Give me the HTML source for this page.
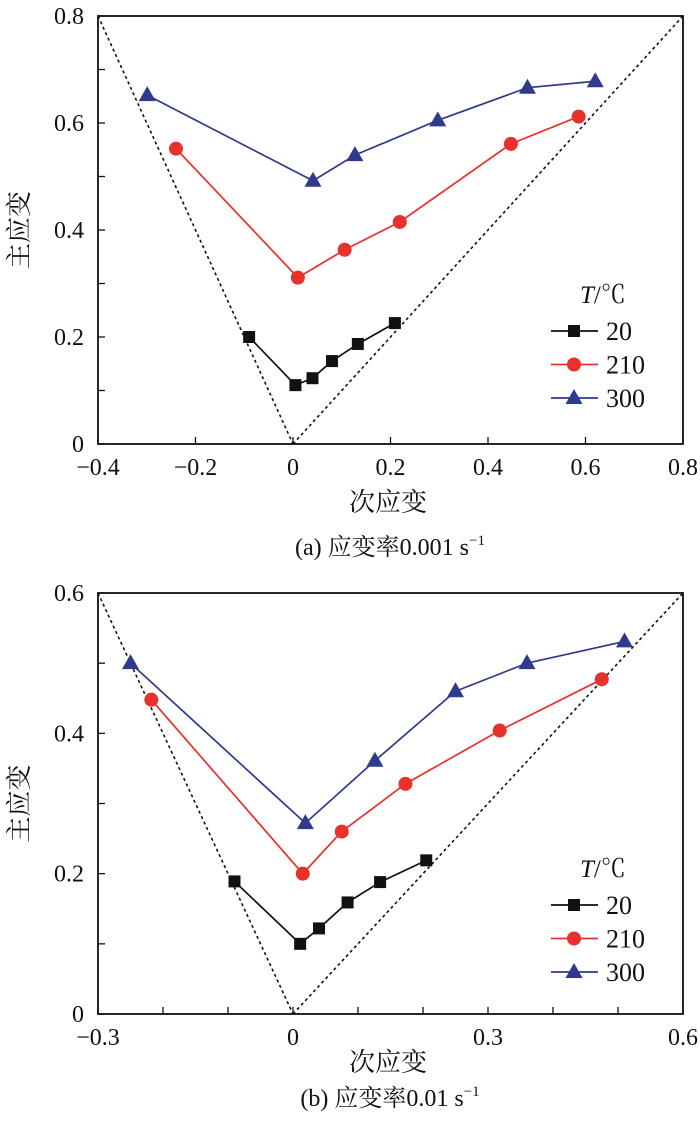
<!DOCTYPE html>
<html><head><meta charset="utf-8"><style>
body{margin:0;background:#fff}
svg text{font-family:"Liberation Serif","Noto Serif CJK SC",serif;fill:#111}
</style></head><body>
<svg id="s" width="700" height="1123" xmlns="http://www.w3.org/2000/svg"></svg>
<script>
// Panel (a)
const aX20=[-0.09,0.005,0.04,0.08,0.133,0.209];
const aY20=[0.2,0.11,0.123,0.155,0.187,0.226];
const aX210=[-0.24,0.01,0.106,0.219,0.447,0.586];
const aY210=[0.552,0.311,0.363,0.415,0.561,0.612];
const aX300=[-0.299,0.041,0.127,0.297,0.481,0.62];
const aY300=[0.652,0.492,0.54,0.605,0.666,0.678];
const aXTicks=[-0.4,-0.2,0,0.2,0.4,0.6,0.8];
const aXLabels=["\u22120.4","\u22120.2","0","0.2","0.4","0.6","0.8"];
const aYTicks=[0,0.2,0.4,0.6,0.8];
const aYLabels=["0","0.2","0.4","0.6","0.8"];
// Panel (b)
const bX20=[-0.09,0.011,0.04,0.084,0.134,0.205];
const bY20=[0.189,0.1,0.122,0.159,0.188,0.219];
const bX210=[-0.218,0.015,0.075,0.173,0.318,0.475];
const bY210=[0.448,0.2,0.26,0.328,0.404,0.477];
const bX300=[-0.25,0.019,0.126,0.25,0.36,0.51];
const bY300=[0.5,0.272,0.361,0.46,0.5,0.531];
const bXTicks=[-0.3,0,0.3,0.6];
const bXLabels=["\u22120.3","0","0.3","0.6"];
const bYTicks=[0,0.2,0.4,0.6];
const bYLabels=["0","0.2","0.4","0.6"];

const NS="http://www.w3.org/2000/svg";
const svg=document.getElementById('s');
function mk(tag,attrs,parent){const e=document.createElementNS(NS,tag);for(const k in attrs)e.setAttribute(k,attrs[k]);(parent||svg).appendChild(e);return e;}

function panel(P){
  const g=mk('g',{});
  
  
  const sx=v=>P.l+(v-P.x0)/(P.x1-P.x0)*(P.r-P.l);
  const sy=v=>P.b-(v-P.y0)/(P.y1-P.y0)*(P.b-P.t);
  const d1=mk('line',{x1:sx(P.x0),y1:sy(-2*P.x0),x2:sx(0),y2:sy(0),stroke:'#111','stroke-width':1.6,'stroke-dasharray':'3,3'},g);
  
  
  const d2=mk('line',{x1:sx(0),y1:sy(0),x2:sx(P.x1),y2:sy(P.x1),stroke:'#111','stroke-width':1.6,'stroke-dasharray':'3,3'},g);
  
  
  const fr=mk('rect',{x:P.l,y:P.t,width:P.r-P.l,height:P.b-P.t,fill:'none',stroke:'#111','stroke-width':1.8},g);
  
  
  for(let v=P.y0;v<=P.y1+1e-9;v+=P.ym){const y=sy(v);mk('line',{x1:P.l,y1:y,x2:P.l+7,y2:y,stroke:'#111','stroke-width':1.3},g);}
  for(let v=P.x0;v<=P.x1+1e-9;v+=P.xm){const x=sx(v);mk('line',{x1:x,y1:P.b,x2:x,y2:P.b-7,stroke:'#111','stroke-width':1.3},g);}
  P.xt.forEach((v,i)=>{const t=mk('text',{x:sx(v),y:P.tickY,'text-anchor':'middle','font-size':24},g);t.textContent=P.xl[i];
    
    });
  P.yt.forEach((v,i)=>{const t=mk('text',{x:P.l-14,y:sy(v)+8,'text-anchor':'end','font-size':24},g);t.textContent=P.yl[i];
    
    });
  const xt=mk('text',{x:388,y:P.titleY,'text-anchor':'middle','font-size':26},g);xt.textContent='次应变';
  
  
  const cy=(P.t+P.b)/2;
  const yt=mk('text',{x:0,y:0,'text-anchor':'middle','font-size':26,transform:`translate(28,${cy}) rotate(-90)`},g);yt.textContent='主应变';
  
  
  const cap=mk('text',{x:390,y:P.capY,'text-anchor':'middle','font-size':24},g);
  cap.innerHTML=P.cap+'<tspan font-size="15" dy="-10">\u22121</tspan>';
  
  
  const series=[[P.s[0],P.s[1],'#111','sq','20'],[P.s[2],P.s[3],'#e8302c','ci','210'],[P.s[4],P.s[5],'#2e3a8c','tr','300']];
  function marker(kind,x,y,col,parent){
    if(kind==='sq')return mk('rect',{x:x-6,y:y-6,width:12,height:12,fill:col},parent);
    if(kind==='ci')return mk('circle',{cx:x,cy:y,r:7,fill:col},parent);
    return mk('polygon',{points:`${x},${y-9} ${x-8.5},${y+6} ${x+8.5},${y+6}`,fill:col},parent);
  }
  series.forEach(([xs,ys,col,kind,lab])=>{
    const sg=mk('g',{},g);
    
    
    const pl=mk('polyline',{points:xs.map((v,i)=>sx(v)+','+sy(ys[i])).join(' '),fill:'none',stroke:col,'stroke-width':1.7},sg);
    
    
    xs.forEach((v,i)=>{const m=marker(kind,sx(v),sy(ys[i]),col,sg);
      
      });
  });
  const lg=mk('g',{},g);
  
  
  const lt=mk('text',{x:580,y:P.lgY,'font-size':25},lg);
  lt.innerHTML='<tspan font-style="italic">T</tspan>/℃';
  series.forEach(([xs,ys,col,kind,lab],i)=>{
    const y=P.lgY+28+i*33.5;
    mk('line',{x1:551,y1:y,x2:598,y2:y,stroke:col,'stroke-width':1.7},lg);
    marker(kind,574,y,col,lg);
    const t=mk('text',{x:606,y:y+9,'font-size':26},lg);t.textContent=lab;
    
    
  });
}
panel({name:'panel-a',l:98,r:683,t:16,b:444,x0:-0.4,x1:0.8,y0:0,y1:0.8,xm:0.2,ym:0.1,
  xt:aXTicks,xl:aXLabels,yt:aYTicks,yl:aYLabels,s:[aX20,aY20,aX210,aY210,aX300,aY300],
  cap:'(a) 应变率0.001 s',tickY:475,titleY:511,capY:555,lgY:303});
panel({name:'panel-b',l:98,r:683,t:593,b:1014,x0:-0.3,x1:0.6,y0:0,y1:0.6,xm:0.1,ym:0.1,
  xt:bXTicks,xl:bXLabels,yt:bYTicks,yl:bYLabels,s:[bX20,bY20,bX210,bY210,bX300,bY300],
  cap:'(b) 应变率0.01 s',tickY:1045,titleY:1071,capY:1106,lgY:877});
</script>
</body></html>
